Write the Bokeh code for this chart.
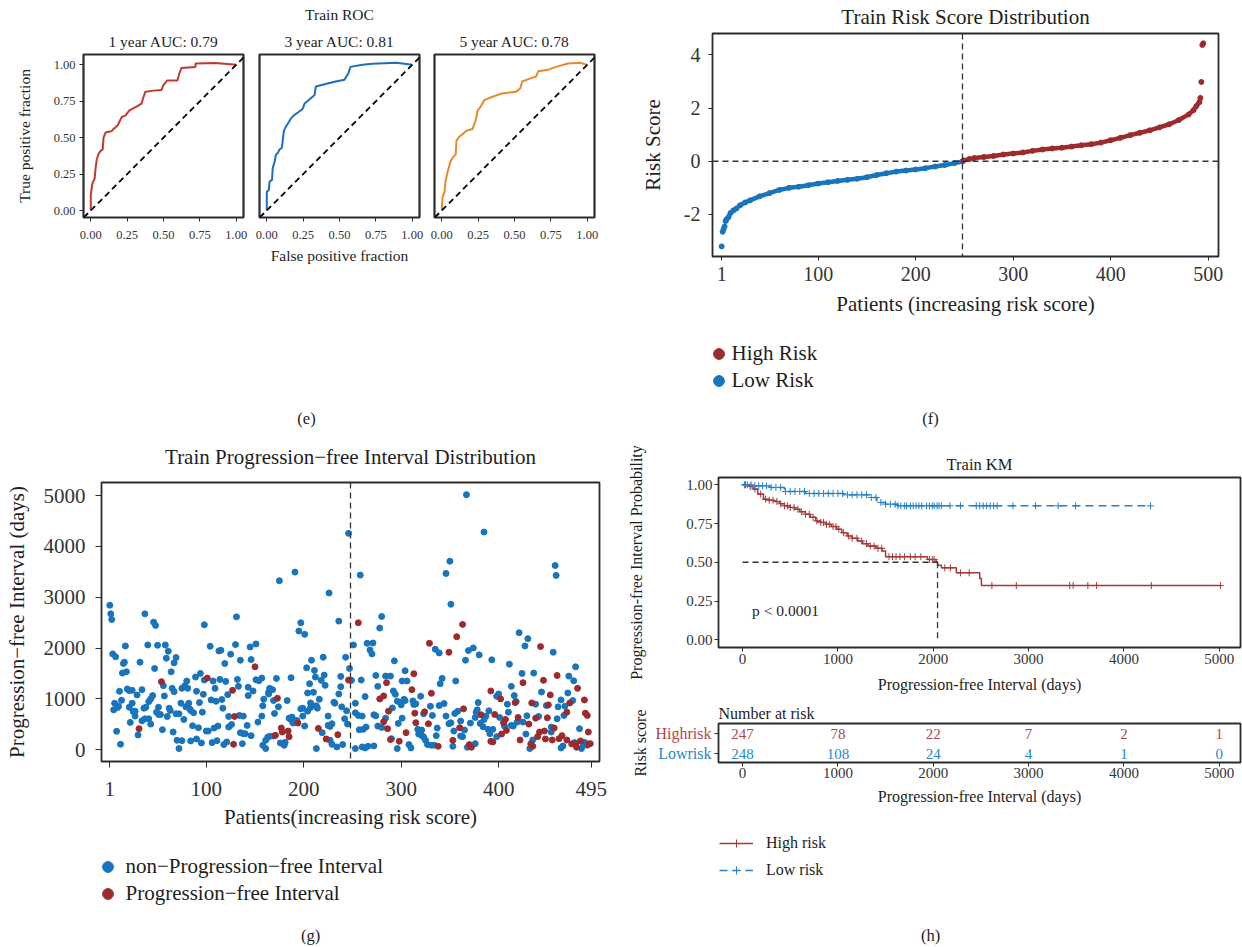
import math
import numpy as np
from bokeh.plotting import figure
from bokeh.layouts import row, column
from bokeh.models import (Range1d, FixedTicker, Label, Legend, LegendItem, Span,
                          Slope, NumeralTickFormatter, Title)
from bokeh.embed import file_html
from bokeh.resources import INLINE
from bokeh.core.properties import value

FONT = "Liberation Serif"
INK = "#1e1e1e"
TICK_INK = "#333333"
FRAME = "#2b2b2b"

# ---------------- time-dependent ROC (training set) ----------------
fpr_1y = [0, 0, 0.011, 0.027, 0.033, 0.041, 0.052, 0.066, 0.082, 0.088, 0.102, 0.129, 0.143,
          0.157, 0.184, 0.212, 0.239, 0.266, 0.321, 0.349, 0.363, 0.376, 0.431, 0.486, 0.50,
          0.527, 0.596, 0.61, 0.624, 0.72, 0.72, 0.857, 1.0]
tpr_1y = [0, 0.105, 0.186, 0.221, 0.291, 0.35, 0.385, 0.408, 0.42, 0.50, 0.536, 0.543, 0.545,
          0.56, 0.583, 0.641, 0.653, 0.688, 0.716, 0.734, 0.781, 0.816, 0.823, 0.827, 0.862,
          0.893, 0.893, 0.944, 0.979, 0.986, 1.01, 1.012, 1.0]
fpr_3y = [0, 0, 0.014, 0.019, 0.036, 0.041, 0.055, 0.063, 0.077, 0.088, 0.104, 0.112, 0.118,
          0.129, 0.151, 0.164, 0.186, 0.219, 0.247, 0.26, 0.301, 0.329, 0.337, 0.425, 0.474,
          0.534, 0.562, 0.575, 0.658, 0.726, 0.89, 1.0]
tpr_3y = [0, 0.128, 0.14, 0.198, 0.21, 0.291, 0.338, 0.385, 0.396, 0.42, 0.431, 0.501, 0.548,
          0.571, 0.606, 0.629, 0.653, 0.676, 0.699, 0.734, 0.769, 0.793, 0.851, 0.874, 0.886,
          0.897, 0.944, 0.986, 1.0, 1.007, 1.014, 1.0]
fpr_5y = [0, 0.005, 0.019, 0.025, 0.041, 0.06, 0.074, 0.096, 0.101, 0.115, 0.142, 0.17, 0.211,
          0.233, 0.247, 0.266, 0.293, 0.348, 0.416, 0.512, 0.54, 0.553, 0.595, 0.649, 0.663,
          0.732, 0.786, 0.868, 0.951, 1.0]
tpr_5y = [0, 0.093, 0.128, 0.198, 0.268, 0.338, 0.361, 0.385, 0.478, 0.501, 0.524, 0.548, 0.559,
          0.618, 0.688, 0.711, 0.758, 0.781, 0.804, 0.816, 0.839, 0.886, 0.902, 0.921, 0.956,
          0.967, 0.986, 1.009, 1.014, 1.0]
roc_titles = ["1 year AUC: 0.79", "3 year AUC: 0.81", "5 year AUC: 0.78"]
roc_ticks = [0, 0.25, 0.5, 0.75, 1.0]

# ---------------- risk score by patient rank ----------------
low_patient = [1, 2, 3, 4, 5, 6, 8, 10, 13, 16, 20, 25, 30, 40, 50, 60, 70, 80, 90, 100, 110,
               120, 130, 140, 150, 160, 170, 180, 190, 200, 210, 220, 230, 240, 248]
low_score = [-3.2, -2.65, -2.55, -2.45, -2.25, -2.18, -2.1, -1.95, -1.85, -1.78, -1.65, -1.55,
             -1.47, -1.32, -1.2, -1.08, -1.0, -0.96, -0.9, -0.84, -0.79, -0.74, -0.7, -0.66,
             -0.6, -0.52, -0.45, -0.39, -0.35, -0.31, -0.26, -0.2, -0.14, -0.07, -0.01]
high_patient = [249, 255, 260, 270, 280, 290, 300, 310, 320, 330, 340, 350, 360, 370, 380, 390,
                400, 410, 420, 430, 440, 450, 460, 470, 480, 485, 488, 491, 492, 493, 494, 495]
high_score = [0.03, 0.08, 0.12, 0.16, 0.2, 0.25, 0.29, 0.33, 0.39, 0.44, 0.48, 0.51, 0.55, 0.6,
              0.64, 0.7, 0.79, 0.88, 0.98, 1.07, 1.16, 1.27, 1.39, 1.55, 1.76, 1.92, 2.08, 2.22,
              2.38, 2.98, 4.37, 4.43]
LOW_N = 248            # patients in the low-risk group (cut-off rank)
risk_x_ticks = [1, 100, 200, 300, 400, 500]
risk_y_ticks = [-2, 0, 2, 4]

# ---------------- progression-free interval by patient rank ----------------
censored_patient = [
    1, 2, 3, 37, 46, 48, 131, 98, 17, 40, 50, 58, 61, 4, 7, 32, 59, 69, 67, 15, 16, 14, 18, 47, 64,
    104, 113, 115, 130, 125, 119, 135, 145, 151, 146, 94, 89, 80, 98, 107, 114, 120, 132, 109, 133,
    122, 151, 157, 154, 143, 148, 143, 164, 165, 56, 65, 67, 75, 78, 81, 90, 97, 11, 19, 21, 24, 29,
    34, 45, 43, 41, 57, 13, 6, 9, 5, 10, 24, 21, 25, 27, 27, 36, 38, 51, 49, 51, 53, 62, 63, 74, 69,
    72, 79, 82, 83, 84, 87, 93, 105, 110, 116, 117, 96, 77, 34, 37, 41, 43, 22, 60, 55, 66, 30, 8,
    12, 86, 92, 100, 102, 108, 112, 123, 126, 123, 134, 138, 135, 138, 140, 142, 146, 153, 157,
    158, 159, 164, 161, 163, 165, 158, 161, 70, 75, 84, 90, 95, 72, 106, 111, 118, 121, 137,
    246, 191, 175, 258, 226, 280, 197, 195, 201, 236, 278, 265, 271, 268, 270, 251, 335, 339, 208,
    220, 243, 203, 211, 293, 247, 304, 172, 168, 187, 212, 221, 218, 238, 249, 259, 274, 284,
    289, 276, 301, 306, 292, 294, 320, 340, 206, 210, 204, 222, 238, 236, 169, 183, 174, 170, 197,
    199, 207, 208, 214, 213, 216, 231, 232, 239, 244, 253, 263, 296, 299, 300, 303, 304, 291, 312,
    313, 330, 323, 332, 339, 169, 176, 180, 181, 188, 189, 191, 189, 193, 199, 201, 204, 207, 185,
    187, 219, 225, 227, 229, 227, 229, 234, 240, 213, 225, 242, 245, 253, 256, 260, 272, 274, 284,
    276, 280, 257, 261, 264, 297, 301, 253, 260, 263, 266, 272, 290, 296, 308, 310, 317, 320, 321,
    323, 318, 321, 325, 327, 331, 334, 337, 336, 315,
    367, 385, 350, 346, 351, 458, 459, 369, 374, 366, 380, 393, 421, 430, 427, 456, 411, 479, 424,
    436, 472, 477, 342, 356, 398, 400, 413, 416, 418, 409, 444, 449, 461, 464, 468, 476, 471, 467,
    438, 344, 346, 349, 351, 355, 358, 361, 365, 361, 363, 354, 353, 371, 376, 378, 379, 377, 381,
    385, 387, 384, 389, 391, 390, 394, 398, 401, 406, 410, 413, 415, 419, 425, 429, 428, 441, 454,
    454, 460, 432, 435, 464, 466, 478, 483, 485, 487, 488, 491, 368, 376]
censored_days = [
    2843, 2674, 2562, 2673, 2510, 2445, 2614, 2458, 2041, 2060, 2054, 2060, 1936, 1884, 1826, 1721,
    1800, 1813, 1708, 1695, 1721, 1506, 1532, 1597, 1532, 2034, 1943, 1956, 2067, 1878, 1695, 1760,
    2021, 2080, 1773, 1500, 1428, 1350, 1369, 1350, 1382, 1343, 1382, 1206, 1245, 1082, 1376, 1408,
    1356, 1226, 1154, 1063, 1128, 1206, 1258, 1206, 1141, 1206, 1258, 1206, 1148, 1089, 1148, 1193,
    1161, 1167, 1076, 1180, 1063, 998, 945, 1056, 971, 913, 828, 782, 854, 913, 834, 750, 756, 659,
    815, 834, 834, 737, 691, 691, 815, 769, 913, 704, 704, 841, 913, 802, 769, 724, 926, 978, 952,
    985, 815, 737, 593, 567, 606, 606, 502, 535, 652, 391, 346, 287, 359, 104, 469, 430, 365, 365,
    424, 463, 443, 495, 652, 672, 659, 333, 313, 313, 476, 274, 541, 659, 861, 991, 1095, 183, 241,
    261, 85, 20, 183, 176, 170, 209, 130, 20, 137, 176, 98, 150, 117,
    4258, 3495, 3325, 3436, 3084, 2621, 2497, 2334, 2269, 2530, 2393, 2093, 2099, 1963, 1884, 2060,
    1976, 1904, 1760, 1819, 1819, 1610, 1558, 1747, 1597, 1552, 1402, 1180, 1415, 1428, 1467, 1363,
    1441, 1363, 1369, 1460, 1447, 1447, 1245, 1350, 1350, 1154, 1089, 1050, 1297, 1297, 1128, 1115,
    1265, 1239, 1095, 965, 965, 841, 711, 802, 815, 919, 880, 815, 861, 991, 932, 913, 841, 763,
    913, 1043, 952, 932, 880, 991, 965, 821, 958, 887, 854, 704, 672, 867, 267, 130, 85, 143, 639,
    593, 541, 522, 574, 659, 463, 756, 828, 619, 587, 333, 476, 456, 509, 183, 104, 52, 98, 20, 659,
    606, 502, 724, 672, 659, 685, 665, 619, 463, 437, 391, 398, 443, 515, 619, 20, 52, 33, 65, 72,
    215, 20, 98, 33, 398, 346, 280, 248, 306, 385, 183, 98, 85, 85, 424, 274, 900,
    5020, 4284, 3710, 3469, 2862, 3625, 3430, 1949, 2002, 1760, 1865, 1767, 2302, 2184, 2041, 1917,
    1682, 1630, 1500, 1506, 1447, 1356, 1402, 1350, 1050, 1095, 1245, 1063, 945, 893, 1134, 867,
    841, 978, 854, 965, 1115, 672, 893, 906, 659, 509, 528, 711, 756, 561, 385, 267, 254, 365, 65,
    522, 632, 782, 926, 737, 515, 593, 659, 450, 398, 313, 763, 398, 254, 632, 463, 737, 476, 463,
    541, 541, 665, 306, 652, 443, 346, 606, 20, 189, 33, 72, 137, 411, 20, 85, 143, 85, 46, 117]
event_patient = [
    150, 54, 101, 127, 129, 31, 128,
    256, 329, 313, 246, 285, 311, 331, 173, 278, 282, 287, 314, 324, 315, 328, 171, 177, 178, 184,
    185, 194, 215, 223, 235, 282, 286, 305, 289, 298, 338,
    363, 357, 349, 443, 425, 460, 446, 481, 392, 402, 417, 434, 453, 451, 470, 473, 488, 489, 491,
    364, 360, 353, 382, 394, 396, 405, 407, 408, 403, 420, 431, 422, 438, 447, 442, 440, 433, 435,
    448, 455, 457, 450, 462, 465, 470, 475, 479, 480, 484, 492, 492, 494, 370, 372, 392]
event_days = [
    1630, 1337, 1408, 1167, 652, 411, 104,
    2497, 2093, 1493, 1369, 1317, 1180, 1108, 1010, 998, 1056, 756, 717, 743, 528, 508, 280, 424,
    346, 365, 254, 522, 417, 209, 293, 548, 411, 333, 196, 163, 65,
    2465, 2223, 1917, 2028, 1317, 1460, 1363, 1206, 1154, 998, 926, 919, 1076, 880, 737, 919, 978,
    717, 672, 802, 430, 183, 685, 150, 691, 528, 593, 378, 306, 632, 502, 189, 619, 365, 346, 254,
    111, 65, 209, 189, 424, 626, 215, 274, 189, 111, 111, 46, 170, 346, 111, 117, 98, 46, 163]
pfi_x_ticks = [1, 100, 200, 300, 400, 495]
pfi_y_ticks = [0, 1000, 2000, 3000, 4000, 5000]

# ---------------- Kaplan-Meier (training set) ----------------
high_time = [0, 50, 110, 160, 219, 280, 329, 390, 439, 500, 549, 600, 658, 710, 768, 820, 878, 930,
             988, 1040, 1097, 1150, 1207, 1260, 1317, 1400, 1463, 1500, 1939, 2030, 2045, 2085,
             2242, 2487, 2505, 5011]
high_surv = [1.0, 0.99, 0.972, 0.94, 0.907, 0.9, 0.892, 0.878, 0.864, 0.853, 0.842, 0.826, 0.81,
             0.79, 0.767, 0.757, 0.745, 0.73, 0.713, 0.69, 0.67, 0.655, 0.637, 0.62, 0.605, 0.59,
             0.572, 0.536, 0.518, 0.503, 0.48, 0.464, 0.432, 0.395, 0.35, 0.35]
high_censor = [30, 80, 130, 190, 240, 280, 320, 360, 400, 440, 470, 500, 540, 580, 620, 660, 700,
               740, 780, 820, 850, 880, 910, 950, 980, 1010, 1060, 1110, 1150, 1200, 1250, 1300,
               1340, 1380, 1420, 1460, 1536, 1573, 1610, 1650, 1700, 1760, 1810, 1870, 1960, 1990,
               2010, 2121, 2180, 2286, 2377, 2615, 2871, 3431, 3467, 3621, 3713, 4287, 5011]
low_time = [0, 120, 290, 440, 660, 1060, 1350, 1410, 1500, 1630, 4279]
low_surv = [1.0, 0.993, 0.983, 0.957, 0.944, 0.935, 0.918, 0.886, 0.875, 0.864, 0.864]
low_censor = [20, 50, 90, 130, 170, 210, 250, 300, 350, 400, 450, 500, 550, 600, 650, 700, 750,
              800, 850, 900, 950, 1000, 1050, 1100, 1150, 1200, 1250, 1300, 1350, 1400, 1450,
              1500, 1550, 1600, 1630, 1660, 1700, 1720, 1760, 1790, 1820, 1850, 1880, 1930, 1960,
              1990, 2010, 2040, 2060, 2085, 2176, 2286, 2451, 2487, 2524, 2560, 2597, 2633, 2670,
              2835, 3072, 3310, 3493, 4279]
risk_times = [0, 1000, 2000, 3000, 4000, 5000]
n_high = [247, 78, 22, 7, 2, 1]
n_low = [248, 108, 24, 4, 1, 0]
km_y_ticks = [0, 0.25, 0.5, 0.75, 1.0]
p_text = "p < 0.0001"

ROC_COLORS = ["#C0392B", "#1F6EB8", "#E8892B"]
RISK_RED, RISK_BLUE = "#9D2A2D", "#1874BC"
KM_RED, KM_BLUE = "#A33A3A", "#2780C8"
TB_RED, TB_BLUE = "#B24548", "#2A86CC"
OFF = {"off": Range1d(1e6, 1e6 + 1)}   # range that keeps key-only copies out of view


def base_fig(width, height, left, right, top, bottom, xr, yr):
    p = figure(width=width, height=height, x_range=Range1d(*xr), y_range=Range1d(*yr),
               output_backend="svg", toolbar_location=None, title=None,
               min_border_left=left, min_border_right=right,
               min_border_top=top, min_border_bottom=bottom)
    p.grid.visible = False
    p.outline_line_color = FRAME
    p.outline_line_width = 1.8
    p.background_fill_color = "white"
    p.border_fill_color = "white"
    for ax in p.axis:
        ax.axis_line_color = None
        ax.major_tick_out = 4
        ax.major_tick_in = 0
        ax.major_tick_line_color = FRAME
        ax.minor_tick_line_color = None
        ax.major_label_text_font = FONT
        ax.major_label_text_color = TICK_INK
        ax.axis_label_text_font = FONT
        ax.axis_label_text_font_style = "normal"
        ax.axis_label_text_color = INK
    return p


def blank_fig(width, height, yr=None):
    """Axis-less canvas measured in pixels, used for keys and free-standing text."""
    p = figure(width=width, height=height, x_range=Range1d(0, width),
               y_range=Range1d(*(yr or (0, height))), output_backend="svg",
               toolbar_location=None, title=None, min_border=0,
               x_axis_type=None, y_axis_type=None)
    p.grid.visible = False
    p.outline_line_color = None
    p.border_fill_color = "white"
    p.background_fill_color = "white"
    p.extra_y_ranges = dict(OFF)
    return p


def solo(p):
    """Own box for a plot, so sibling plots do not share frame edges."""
    return column(p)


def heading(p, text, size, standoff, align="center", offset=0):
    p.add_layout(Title(text=text, text_font=FONT, text_font_size=f"{size}px",
                       text_font_style="normal", text_color=INK, align=align,
                       offset=offset, standoff=standoff, vertical_align="middle"), "above")


def key(p, items, loc, glyph_w, glyph_h, spacing, standoff, size):
    p.add_layout(Legend(items=items, location=loc, margin=0, glyph_width=glyph_w,
                        glyph_height=glyph_h, label_height=glyph_h, spacing=spacing,
                        label_standoff=standoff, padding=0, border_line_color=None,
                        background_fill_alpha=0, label_text_font=FONT,
                        label_text_font_size=f"{size}px", label_text_color=INK))


def tag(p, text, x, y):
    p.text(x=[x], y=[y], text=[text], text_font=value(FONT), text_font_size="16.5px",
           text_align="center", text_baseline="middle", text_color=INK)


# ---------------- (e) ROC panels ----------------
roc_specs = [(251, 83, 8), (176, 8, 8), (193, 7, 26)]
roc_data = [(fpr_1y, tpr_1y), (fpr_3y, tpr_3y), (fpr_5y, tpr_5y)]
roc_figs = []
for i, ((w, lb, rb), (fx, ty)) in enumerate(zip(roc_specs, roc_data)):
    p = base_fig(w, 280, lb, rb, 53, 63, (-0.05, 1.05), (-0.048, 1.071))
    p.outline_line_width = 2.2
    p.line(fx, ty, line_color=ROC_COLORS[i], line_width=2)
    p.add_layout(Slope(gradient=1, y_intercept=0, line_color="black",
                       line_dash="6 4", line_width=1.8))
    p.xaxis.ticker = FixedTicker(ticks=roc_ticks)
    p.xaxis.formatter = NumeralTickFormatter(format="0.00")
    p.xaxis.major_label_text_font_size = "12.5px"
    p.xaxis.major_label_standoff = 9
    p.yaxis.ticker = FixedTicker(ticks=roc_ticks)
    p.yaxis.formatter = NumeralTickFormatter(format="0.00")
    p.yaxis.major_label_text_font_size = "12.5px"
    p.yaxis.major_label_standoff = 4
    if i == 0:
        p.yaxis.axis_label = "True positive fraction"
        p.yaxis.axis_label_text_font_size = "15.5px"
        p.yaxis.axis_label_standoff = 18
    else:
        p.yaxis.visible = False
    if i == 1:
        p.xaxis.axis_label = "False positive fraction"
        p.xaxis.axis_label_text_font_size = "15.5px"
        p.xaxis.axis_label_standoff = 5
    heading(p, roc_titles[i], 15.5, 8)
    if i == 1:
        heading(p, "Train ROC", 15.5, 8)
    roc_figs.append(p)

cap_e = blank_fig(620, 150)
tag(cap_e, "(e)", 306, 12)

# ---------------- (g) progression-free interval scatter ----------------
gp = base_fig(620, 410, 101, 21, 50, 79, (-7.5, 503.5), (-235, 5260))
gp.scatter(censored_patient, censored_days, size=6, color=RISK_BLUE)
gp.scatter(event_patient, event_days, size=6, color=RISK_RED)
gp.add_layout(Span(location=LOW_N, dimension="height", line_color="#333333",
                   line_dash="6 4", line_width=1.3))
gp.xaxis.ticker = FixedTicker(ticks=pfi_x_ticks)
gp.yaxis.ticker = FixedTicker(ticks=pfi_y_ticks)
for ax in gp.axis:
    ax.major_tick_out = 6
    ax.major_label_text_font_size = "21px"
    ax.axis_label_text_font_size = "21px"
gp.xaxis.major_label_standoff = 14
gp.xaxis.axis_label_standoff = 6
gp.yaxis.major_label_standoff = 10
gp.yaxis.axis_label_standoff = 12
gp.xaxis.axis_label = "Patients(increasing risk score)"
gp.yaxis.axis_label = "Progression\u2212free Interval (days)"
heading(gp, "Train Progression\u2212free Interval Distribution", 21, 26)

key_g = blank_fig(620, 107)
k_cen = key_g.scatter(censored_patient, censored_days, size=6, color=RISK_BLUE,
                      y_range_name="off")
k_evt = key_g.scatter(event_patient, event_days, size=6, color=RISK_RED, y_range_name="off")
key(key_g, [LegendItem(label="non\u2212Progression\u2212free Interval", renderers=[k_cen]),
            LegendItem(label="Progression\u2212free Interval", renderers=[k_evt])],
    (93.5, 40.5), 27, 27, 0, 5, 21)
tag(key_g, "(g)", 310, 12)

# ---------------- (f) risk score distribution ----------------
fr = base_fig(622, 330, 92, 24, 32, 74, (-8.4, 510.6), (-3.58, 4.80))
fr.line(low_patient[4:], low_score[4:], line_color=RISK_BLUE, line_width=4.5)
fr.line(high_patient[:-3], high_score[:-3], line_color=RISK_RED, line_width=4.5)
fr.scatter(low_patient, low_score, size=5, color=RISK_BLUE)
fr.scatter(high_patient, high_score, size=5, color=RISK_RED)
fr.add_layout(Span(location=0, dimension="width", line_color="#333333",
                   line_dash="6 4", line_width=1.3))
fr.add_layout(Span(location=LOW_N, dimension="height", line_color="#333333",
                   line_dash="6 4", line_width=1.3))
fr.xaxis.ticker = FixedTicker(ticks=risk_x_ticks)
fr.yaxis.ticker = FixedTicker(ticks=risk_y_ticks)
fr.yaxis.major_label_overrides = {t: str(t) for t in risk_y_ticks}
for ax in fr.axis:
    ax.major_label_text_font_size = "20px"
    ax.axis_label_text_font_size = "21px"
fr.xaxis.major_label_standoff = 6
fr.xaxis.axis_label_standoff = 8
fr.yaxis.major_label_standoff = 8
fr.yaxis.axis_label_standoff = 16
fr.xaxis.axis_label = "Patients (increasing risk score)"
fr.yaxis.axis_label = "Risk Score"
heading(fr, "Train Risk Score Distribution", 21, 6.5)

key_f = blank_fig(622, 110)
k_hi = key_f.scatter(high_patient, high_score, size=5, color=RISK_RED, y_range_name="off")
k_lo = key_f.scatter(low_patient, low_score, size=5, color=RISK_BLUE, y_range_name="off")
key(key_f, [LegendItem(label="High Risk", renderers=[k_hi]),
            LegendItem(label="Low Risk", renderers=[k_lo])],
    (84.5, 46.5), 27, 27, 0, 0, 21)
tag(key_f, "(f)", 310, 22)

# ---------------- (h) Kaplan-Meier curves ----------------
def surv_at(times, surv, pts):
    idx = np.searchsorted(np.asarray(times), np.asarray(pts), side="right") - 1
    return np.asarray(surv)[np.clip(idx, 0, len(surv) - 1)]


def km_curves(p, y_range_name="default"):
    hl = p.step(high_time, high_surv, mode="after", line_color=KM_RED, line_width=1.5,
                y_range_name=y_range_name)
    hm = p.scatter(high_censor, surv_at(high_time, high_surv, high_censor), marker="cross",
                   size=7, line_color=KM_RED, line_width=1, y_range_name=y_range_name)
    ll = p.step(low_time, low_surv, mode="after", line_color=KM_BLUE, line_width=1.5,
                line_dash="8 5", y_range_name=y_range_name)
    lm = p.scatter(low_censor, surv_at(low_time, low_surv, low_censor), marker="cross",
                   size=7, line_color=KM_BLUE, line_width=1, y_range_name=y_range_name)
    return (hl, hm), (ll, lm)


km = base_fig(622, 260, 98, 2, 37, 53, (-252, 5222), (-0.05, 1.047))
km_curves(km)
median_t = high_time[int(np.argmax(np.asarray(high_surv) <= 0.5))]
km.line([0, median_t], [0.5, 0.5], line_color="#333333", line_dash="6 4", line_width=1.3)
km.line([median_t, median_t], [0.5, 0], line_color="#333333", line_dash="6 4", line_width=1.3)
km.add_layout(Label(x=100, y=0.19, text=p_text, text_font=FONT, text_font_size="15.5px",
                    text_align="left", text_baseline="middle", text_color=INK))
km.xaxis.ticker = FixedTicker(ticks=risk_times)
km.yaxis.ticker = FixedTicker(ticks=km_y_ticks)
km.yaxis.formatter = NumeralTickFormatter(format="0.00")
for ax in km.axis:
    ax.major_label_text_font_size = "15px"
    ax.axis_label_text_font_size = "16px"
km.xaxis.major_label_standoff = 2
km.xaxis.axis_label_standoff = 9
km.yaxis.major_label_standoff = 2
km.yaxis.axis_label_standoff = 38
km.xaxis.axis_label = "Progression-free Interval (days)"
km.yaxis.axis_label = "Progression-free Interval Probability"
heading(km, "Train KM", 16.5, 5)

# number-at-risk table: row names on the left, counts in the framed strip
ROW_LO, ROW_HI = 1, 2
TB_Y = (0.55, 2.5)
TB_H, TB_TOP, TB_BOTTOM = 112, 23, 50
tb = base_fig(530, TB_H, 6, 2, TB_TOP, TB_BOTTOM, (-252, 5222), TB_Y)
tb.text(x=risk_times, y=[ROW_HI] * len(risk_times), text=[str(v) for v in n_high],
        text_font=value(FONT), text_font_size="15px", text_align="center",
        text_baseline="middle", text_color=TB_RED)
tb.text(x=risk_times, y=[ROW_LO] * len(risk_times), text=[str(v) for v in n_low],
        text_font=value(FONT), text_font_size="15px", text_align="center",
        text_baseline="middle", text_color=TB_BLUE)
tb.xaxis.ticker = FixedTicker(ticks=risk_times)
tb.yaxis.ticker = FixedTicker(ticks=[ROW_LO, ROW_HI])
tb.yaxis.major_label_overrides = {ROW_LO: "", ROW_HI: ""}
tb.yaxis.major_label_standoff = 0
tb.xaxis.major_label_text_font_size = "15px"
tb.xaxis.axis_label_text_font_size = "16px"
tb.xaxis.major_label_standoff = 1
tb.xaxis.axis_label_standoff = 7
tb.xaxis.axis_label = "Progression-free Interval (days)"
heading(tb, "Number at risk", 16, 1.5, align="left", offset=0)

px_per_row = (TB_H - TB_TOP - TB_BOTTOM) / (TB_Y[1] - TB_Y[0])
tl = blank_fig(92, TB_H, (TB_Y[0] - TB_BOTTOM / px_per_row, TB_Y[1] + TB_TOP / px_per_row))
tl.text(x=[91, 91], y=[ROW_HI, ROW_LO], text=["Highrisk", "Lowrisk"], text_font=value(FONT),
        text_font_size="16px", text_align="right", text_baseline="middle",
        text_color=[TB_RED, TB_BLUE])
tl.text(x=[20], y=[(TB_Y[0] + TB_Y[1]) / 2], text=["Risk score"], text_font=value(FONT),
        text_font_size="16px", text_align="center", text_baseline="middle",
        angle=math.pi / 2, text_color=INK)

key_h = blank_fig(622, 135)
(k_hl, k_hm), (k_ll, k_lm) = km_curves(key_h, "off")
key(key_h, [LegendItem(label="High risk", renderers=[k_hl, k_hm]),
            LegendItem(label="Low risk", renderers=[k_ll, k_lm])],
    (99, 67), 34, 20, 7, 13, 16)
tag(key_h, "(h)", 310, 12)

left = column(row(*roc_figs), solo(cap_e), solo(gp), solo(key_g))
right = column(solo(fr), solo(key_f), solo(km), row(solo(tl), solo(tb)), solo(key_h))
layout = row(left, right)

with open("out.html", "w") as fh:
    fh.write(file_html(layout, INLINE))
